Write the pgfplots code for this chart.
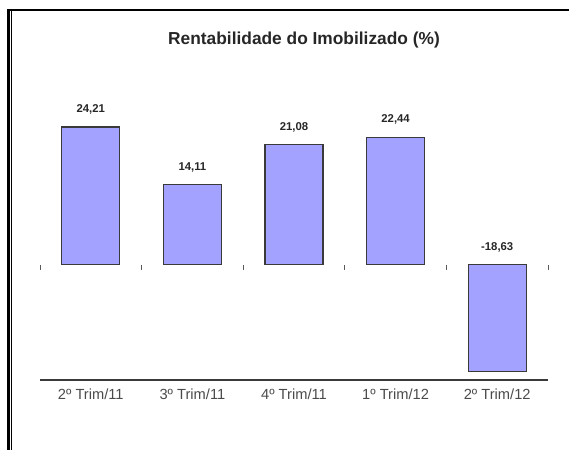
\documentclass[border=0pt]{standalone}
\usepackage{pgfplots}
\pgfplotsset{compat=1.18}
\usepackage{fontspec}
\setmainfont{Liberation Sans}
\definecolor{barfill}{HTML}{A3A3FF}
\definecolor{bardraw}{HTML}{3A3A3A}
\definecolor{labgray}{HTML}{4A4A4A}
\begin{document}
\begin{tikzpicture}[x=0.75pt,y=0.75pt]
\path[use as bounding box] (0,0) rectangle (569,450);
% frame
\draw[black,line width=2.25pt] (8.5,0) -- (8.5,440);
\draw[black,line width=0.75pt] (11.5,0) -- (11.5,439.5);
\draw[black,line width=1.5pt] (7,440) -- (569,440);
% title
\node[font=\fontsize{13}{15}\selectfont\bfseries,text=black!85] at (304,410) {Rentabilidade do Imobilizado (\%)};
\begin{axis}[
  at={(30pt,52.5pt)}, anchor=south west,
  scale only axis,
  width=381pt, height=214.5pt,
  xmin=-0.5, xmax=4.5,
  ymin=-20.2, ymax=30,
  axis x line=bottom,
  axis y line=none,
  axis line style={draw=bardraw,line width=0.9pt,-},
  xtick={0,1,2,3,4},
  xticklabels={2º Trim/11,3º Trim/11,4º Trim/11,1º Trim/12,2º Trim/12},
  major tick length=0pt,
  xticklabel style={font=\fontsize{11}{13}\selectfont,text=labgray,yshift=-3pt},
  clip=false,
]
\addplot[ybar, bar width=43.5pt, bar shift=0pt, fill=barfill, draw=bardraw, line width=0.8pt]
  coordinates {(0,24.21) (1,14.11) (2,21.08) (3,22.44) (4,-18.63)};
\addplot[draw=none, mark=none, nodes near coords,
  point meta=explicit symbolic,
  nodes near coords style={anchor=south, yshift=6pt, font=\fontsize{8.5}{10}\selectfont\bfseries, text=black!85}]
  coordinates {(0,24.21)[24,21] (1,14.11)[14,11] (2,21.08)[21,08] (3,22.44)[22,44] (4,0)[-18,63]};
\pgfplotsinvokeforeach{-0.5,0.5,1.5,2.5,3.5,4.5}{
  \draw[gray!70!black,line width=0.6pt] (axis cs:#1,0) -- ([yshift=-4pt]axis cs:#1,0);
}
\end{axis}
\end{tikzpicture}
\end{document}
